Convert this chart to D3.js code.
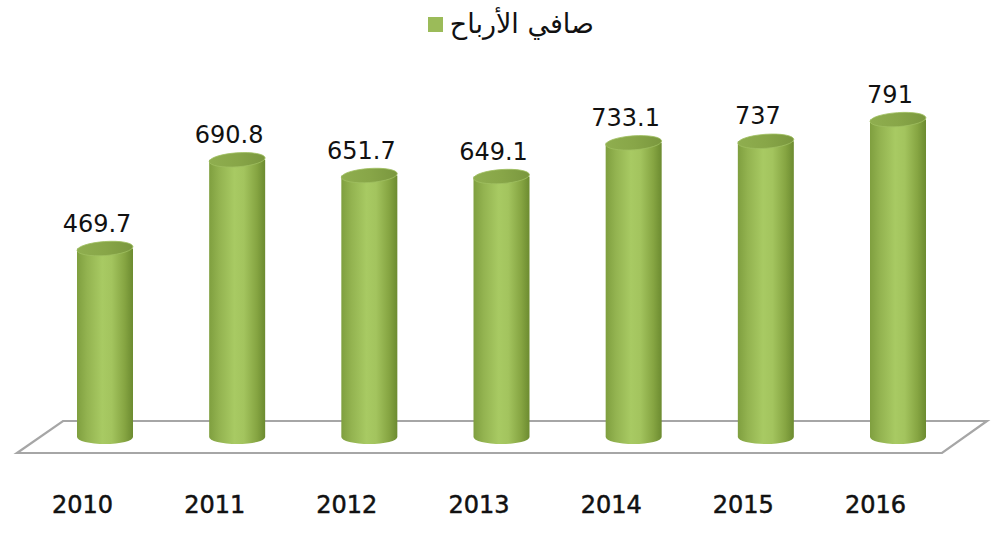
<!DOCTYPE html>
<html>
<head>
<meta charset="utf-8">
<script src="https://cdn.jsdelivr.net/npm/d3@7"></script>
<style>
  body { margin: 0; background: #fff; }
</style>
</head>
<body>
<div id="chart"></div>
<script>
// chart data
var years = ["2010", "2011", "2012", "2013", "2014", "2015", "2016"];
var profits = [469.7, 690.8, 651.7, 649.1, 733.1, 737, 791];
var valueLabels = ["469.7", "690.8", "651.7", "649.1", "733.1", "737", "791"];
var seriesName = "صافي الأرباح";

var width = 1000, height = 541;
var CYL_R = 28, ELL_RY = 7;

var svg = d3.select("#chart")
	.append("svg")
	.attr("width", width)
	.attr("height", height);

var defs = svg.append("defs");
var bodyGrad = defs.append("linearGradient")
	.attr("id", "bodyGrad")
	.attr("x1", "0%").attr("x2", "100%").attr("y1", "0%").attr("y2", "0%");
[["0%", "#7f9f3f"], ["18%", "#93b350"], ["45%", "#a8ca63"], ["62%", "#a3c45e"], ["85%", "#86a542"], ["100%", "#6c8b30"]]
	.forEach(s => bodyGrad.append("stop").attr("offset", s[0]).attr("stop-color", s[1]));

var topGrad = defs.append("linearGradient")
	.attr("id", "topGrad")
	.attr("x1", "0%").attr("x2", "100%").attr("y1", "0%").attr("y2", "0%");
[["0%", "#8fae4f"], ["50%", "#88a648"], ["100%", "#7a973e"]]
	.forEach(s => topGrad.append("stop").attr("offset", s[0]).attr("stop-color", s[1]));

// scales
var x = d3.scalePoint()
	.domain(years)
	.range([105, 898]);

var y = d3.scaleLinear()
	.domain([0, 800])
	.range([437, 116]);

// floor
var floorTop = 421, floorBot = 453;
var floor = [
	[17, floorBot], [63, floorTop], [987, floorTop], [942, floorBot]
];
svg.append("path")
	.attr("d", "M" + floor.map(p => p.join(",")).join("L") + "Z")
	.attr("fill", "#fff")
	.attr("stroke", "#a6a6a6")
	.attr("stroke-width", 2.2)
	.attr("stroke-linejoin", "miter");

// legend
svg.append("rect")
	.attr("x", 428).attr("y", 17)
	.attr("width", 15).attr("height", 15)
	.attr("fill", "#9bbb59");
svg.append("text")
	.attr("x", 594).attr("y", 33)
	.attr("text-anchor", "end")
	.attr("font-family", "DejaVu Sans")
	.style("font-size", "27px")
	.attr("fill", "#111")
	.text(seriesName);

var data = years.map((yr, i) => ({year: yr, value: profits[i], label: valueLabels[i]}));

// cylinders
var cyl = svg.append("g")
	.selectAll("g")
	.data(data)
	.enter()
	.append("g");

// body with rounded bottom
cyl.append("path")
	.attr("d", function(d) {
		var cx = x(d.year), top = y(d.value), bot = y(0);
		return "M" + (cx - CYL_R) + "," + top +
			"L" + (cx - CYL_R) + "," + bot +
			"A" + CYL_R + "," + ELL_RY + " 0 0 0 " + (cx + CYL_R) + "," + bot +
			"L" + (cx + CYL_R) + "," + top + "Z";
	})
	.attr("fill", "url(#bodyGrad)");

// top cap
cyl.append("ellipse")
	.attr("cx", d => x(d.year))
	.attr("cy", d => y(d.value))
	.attr("rx", CYL_R)
	.attr("ry", ELL_RY)
	.attr("transform", d => "rotate(-4," + x(d.year) + "," + y(d.value) + ")")
	.attr("fill", "url(#topGrad)")
	.attr("stroke", "#9fbf60")
	.attr("stroke-width", 0.8);

// value labels
svg.append("g")
	.selectAll("text")
	.data(data)
	.enter()
	.append("text")
	.attr("x", d => x(d.year) - 8)
	.attr("y", d => y(d.value) - ELL_RY - 10)
	.attr("text-anchor", "middle")
	.attr("font-family", "DejaVu Sans")
	.style("font-size", "24px")
	.attr("fill", "#111")
	.text(d => d.label);

// category axis along the front edge of the floor
svg.append("g")
	.attr("transform", "translate(-23," + 494 + ")")
	.call(d3.axisBottom(x)
		.tickSize(0)
		.tickPadding(2))
	.attr("font-family", "DejaVu Sans")
	.style("font-size", "24px")
	.call(g => g.select(".domain").remove())
	.selectAll("text")
	.attr("fill", "#111")
	.attr("stroke", "#111")
	.attr("stroke-width", 0.5);
</script>
</body>
</html>
